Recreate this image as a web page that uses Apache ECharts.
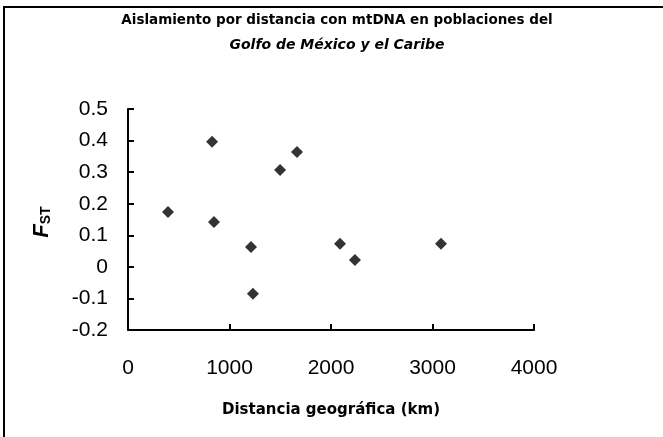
<!DOCTYPE html>
<html><head><meta charset="utf-8">
<script src="https://cdn.jsdelivr.net/npm/echarts@6/dist/echarts.min.js"></script>
<style>html,body{margin:0;padding:0;background:#fff}#c{width:663px;height:437px}</style>
</head><body><div id="c"></div>
<script>
const distanceKm = [394, 828, 847, 1212, 1231, 1498, 1665, 2089, 2236, 3084];
const fst = [0.174, 0.396, 0.142, 0.063, -0.085, 0.307, 0.364, 0.073, 0.022, 0.073];
const xTicks = [0, 1000, 2000, 3000, 4000];
const yTicks = [-0.2, -0.1, 0, 0.1, 0.2, 0.3, 0.4, 0.5];

const points = distanceKm.map((d, i) => [d, fst[i]]);
const chart = echarts.init(document.getElementById('c'));
const font = '"Liberation Sans", Arial, sans-serif';
const heavy = '"DejaVu Sans", sans-serif';
chart.setOption({
  animation: false,
  backgroundColor: '#fff',
  title: {
    text: '{a|Aislamiento por distancia con mtDNA en poblaciones del}\n{b|Golfo de México y el Caribe}',
    left: 332, top: 3, textAlign: 'center',
    textStyle: {
      rich: {
        a: {fontFamily: heavy, fontWeight: 'bold', fontSize: 13.5, color: '#000', lineHeight: 25},
        b: {fontFamily: heavy, fontWeight: 'bold', fontStyle: 'italic', fontSize: 14, color: '#000', lineHeight: 25}
      }
    }
  },
  grid: {left: 128, right: 129, top: 109, bottom: 107, containLabel: false},
  xAxis: {
    type: 'value', min: xTicks[0], max: xTicks[xTicks.length - 1], interval: 1000,
    name: 'Distancia geográfica (km)', nameLocation: 'middle', nameGap: 73,
    nameTextStyle: {fontFamily: heavy, fontWeight: 'bold', fontSize: 15, color: '#000'},
    axisLine: {onZero: false, lineStyle: {color: '#000', width: 2}},
    axisTick: {inside: true, length: 6, lineStyle: {color: '#000', width: 2}},
    axisLabel: {fontFamily: font, fontSize: 21, color: '#000', margin: 28, formatter: v => String(v)},
    splitLine: {show: false}
  },
  yAxis: {
    type: 'value', min: yTicks[0], max: yTicks[yTicks.length - 1], interval: 0.1,
    axisLine: {onZero: false, lineStyle: {color: '#000', width: 2}},
    axisTick: {inside: true, length: 6, lineStyle: {color: '#000', width: 2}},
    axisLabel: {fontFamily: font, fontSize: 21, color: '#000', margin: 20,
      formatter: v => { const r = Math.round(v * 10) / 10; return r === 0 ? '0' : String(r); }},
    splitLine: {show: false}
  },
  series: [{
    type: 'scatter', data: points, symbol: 'diamond', symbolSize: 12,
    itemStyle: {color: '#000'}
  }],
  graphic: [
    {type: 'polyline', shape: {points: [[4, 437], [4, 7], [663, 7]]}, style: {stroke: '#000', lineWidth: 2, fill: null}},
    {type: 'text', x: 42, y: 222, rotation: Math.PI / 2,
      style: {text: '{f|F}{s|ST}', align: 'center', verticalAlign: 'middle',
        rich: {
          f: {fontFamily: font, fontWeight: 'bold', fontStyle: 'italic', fontSize: 22, fill: '#000'},
          s: {fontFamily: font, fontWeight: 'bold', fontSize: 14, fill: '#000', padding: [9, 0, 0, 0]}
        }}}
  ]
});
</script></body></html>
